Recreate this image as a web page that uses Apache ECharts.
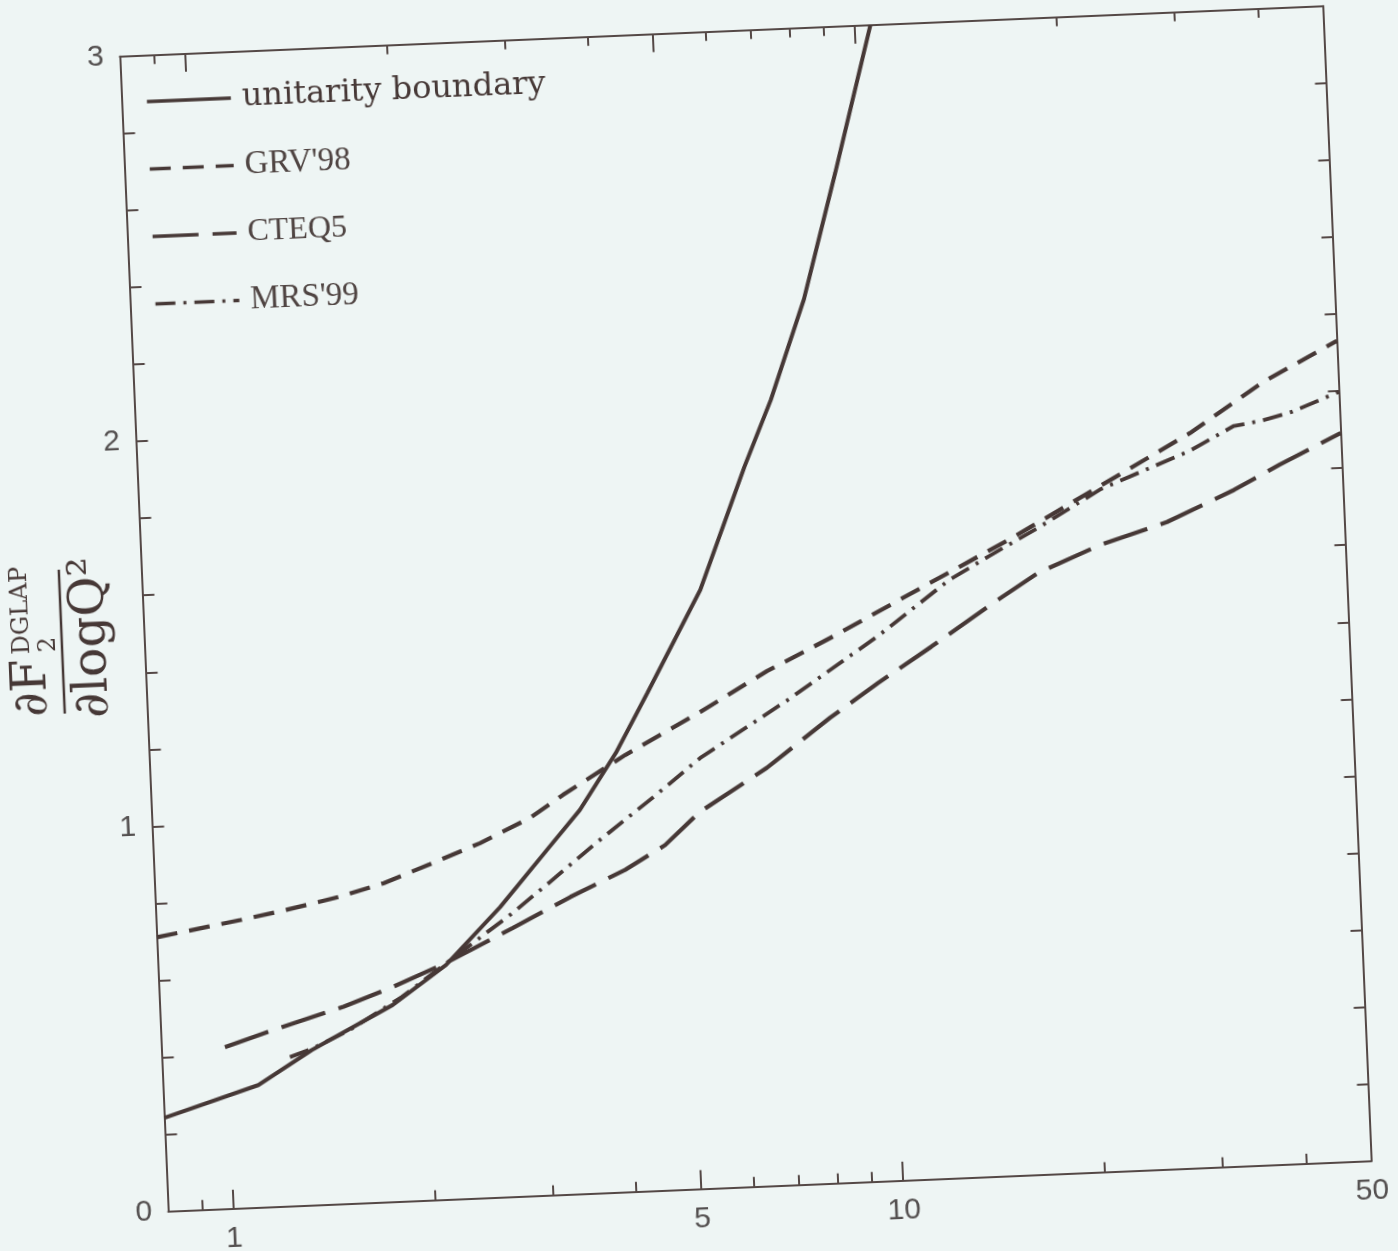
<!DOCTYPE html>
<html>
<head>
<meta charset="utf-8">
<script src="https://cdn.jsdelivr.net/npm/echarts@6/dist/echarts.min.js"></script>
<style>
  html, body { margin: 0; padding: 0; background: #eef5f4; overflow: hidden; }
  #chart { width: 1398px; height: 1251px; transform: rotate(-2.4deg); transform-origin: 745.5px 608.75px; }
</style>
</head>
<body>
<div id="chart"></div>
<script>
// ---- data (Q^2 in GeV^2, value of dF2/dlogQ2) ----
const unitarityQ2  = [0.8, 1.11, 1.34, 1.78, 2.15, 2.61, 3.09, 3.48, 3.97, 4.46, 5.43, 6.43, 7.11, 8.08, 9.16, 10.56];
const unitarityVal = [0.243, 0.318, 0.403, 0.511, 0.609, 0.753, 0.896, 0.996, 1.140, 1.292, 1.554, 1.868, 2.039, 2.296, 2.62, 3.0];

const grvQ2  = [0.8, 1.071, 1.252, 1.504, 1.758, 2.065, 2.459, 2.93, 3.29, 4.10, 5.33, 6.75, 8.52, 11.65, 15.92, 21.8, 29.8, 38.6, 50];
const grvVal = [0.712, 0.748, 0.769, 0.797, 0.828, 0.872, 0.921, 0.981, 1.037, 1.134, 1.237, 1.336, 1.419, 1.537, 1.654, 1.781, 1.907, 2.032, 2.130];

const cteqQ2  = [0.995, 1.156, 1.504, 1.786, 2.15, 2.72, 3.33, 4.03, 4.64, 5.25, 6.65, 8.32, 9.86, 11.89, 14.59, 17.34, 21.55, 27.2, 34.4, 40.3, 50];
const cteqVal = [0.420, 0.455, 0.512, 0.558, 0.614, 0.698, 0.772, 0.836, 0.896, 0.978, 1.085, 1.208, 1.293, 1.381, 1.481, 1.561, 1.627, 1.679, 1.755, 1.815, 1.891];

const mrsQ2  = [1.242, 1.341, 1.532, 1.84, 2.29, 2.70, 3.11, 3.63, 4.53, 5.30, 7.25, 9.93, 12.76, 14.70, 17.46, 21.8, 29.7, 34.7, 38.1, 42.4, 50];
const mrsVal = [0.387, 0.406, 0.451, 0.531, 0.646, 0.732, 0.813, 0.904, 1.027, 1.118, 1.261, 1.415, 1.552, 1.610, 1.678, 1.772, 1.861, 1.921, 1.931, 1.951, 1.998];

// ---- ticks / labels ----
const xMajorTicks = [1, 5, 10];
const xMinorTicks = [0.9, 2, 3, 4, 6, 7, 8, 9, 20, 30, 40];
const xLabels = [1, 5, 10, 50];
const yTicks = [0, 0.2, 0.4, 0.6, 0.8, 1, 1.2, 1.4, 1.6, 1.8, 2, 2.2, 2.4, 2.6, 2.8, 3];
const yLabels = [0, 1, 2, 3];

const seriesNames = ['unitarity boundary', "GRV'98", 'CTEQ5', "MRS'99"];

const INK = '#463836';
const AXIS = '#544846';
const LABEL = '#545050';

function pairs(xs, ys) { return xs.map((x, i) => [x, ys[i]]); }

const chart = echarts.init(document.getElementById('chart'), null, { renderer: 'canvas' });

const xBase = { type: 'log', logBase: 10, min: 0.8, max: 50, splitLine: { show: false }, minorTick: { show: false } };
const axisLineStyle = { color: AXIS, width: 2 };
const tickFont = { color: LABEL, fontSize: 30, fontFamily: 'Liberation Sans' };

chart.setOption({
  backgroundColor: 'transparent',
  animation: false,
  grid: { left: 143.5, top: 30.75, width: 1204, height: 1156, containLabel: false },
  xAxis: [
    Object.assign({}, xBase, {
      position: 'bottom',
      axisLine: { show: true, lineStyle: axisLineStyle },
      axisTick: { show: true, inside: true, length: 19, customValues: xMajorTicks, lineStyle: { color: AXIS, width: 2 } },
      axisLabel: Object.assign({ show: true, customValues: xLabels, margin: 15 }, tickFont)
    }),
    Object.assign({}, xBase, {
      position: 'bottom',
      axisLine: { show: false },
      axisTick: { show: true, inside: true, length: 10, customValues: xMinorTicks, lineStyle: { color: AXIS, width: 2 } },
      axisLabel: { show: false }
    }),
    Object.assign({}, xBase, {
      position: 'top',
      axisLine: { show: true, lineStyle: axisLineStyle },
      axisTick: { show: true, inside: true, length: 18, customValues: xMajorTicks, lineStyle: { color: AXIS, width: 2 } },
      axisLabel: { show: false }
    }),
    Object.assign({}, xBase, {
      position: 'top',
      axisLine: { show: false },
      axisTick: { show: true, inside: true, length: 9, customValues: xMinorTicks, lineStyle: { color: AXIS, width: 2 } },
      axisLabel: { show: false }
    })
  ],
  yAxis: [
    {
      type: 'value', min: 0, max: 3, position: 'left',
      splitLine: { show: false },
      axisLine: { show: true, lineStyle: axisLineStyle },
      axisTick: { show: true, inside: true, length: 12, customValues: yTicks, lineStyle: { color: AXIS, width: 2 } },
      axisLabel: Object.assign({ show: true, customValues: yLabels, margin: 16 }, tickFont)
    },
    {
      type: 'value', min: 0, max: 3, position: 'right',
      splitLine: { show: false },
      axisLine: { show: true, lineStyle: axisLineStyle },
      axisTick: { show: true, inside: true, length: 11, customValues: yTicks, lineStyle: { color: AXIS, width: 2 } },
      axisLabel: { show: false }
    }
  ],
  legend: {
    orient: 'vertical', left: 162, top: 56,
    itemWidth: 84, itemHeight: 30, itemGap: 35,
    selectedMode: false,
    itemStyle: { opacity: 0 },
    lineStyle: { width: 3.4 },
    textStyle: { color: INK, padding: [0, 0, 0, 6] },
    data: [
      { name: seriesNames[0], textStyle: { fontFamily: 'DejaVu Serif', fontSize: 32, color: INK } },
      { name: seriesNames[1], textStyle: { fontFamily: 'Liberation Serif', fontSize: 33, color: '#4f4442' } },
      { name: seriesNames[2], textStyle: { fontFamily: 'Liberation Serif', fontSize: 32, color: '#4f4442', padding: [0, 0, 6, 6] } },
      { name: seriesNames[3], textStyle: { fontFamily: 'Liberation Serif', fontSize: 33, color: '#4f4442' } }
    ]
  },
  graphic: [
    {
      type: 'group', x: 61, y: 613, rotation: Math.PI / 2,
      children: [
        { type: 'text', style: { text: '∂F', x: -74, y: -30, font: '48px "DejaVu Serif"', fill: INK, align: 'left', verticalAlign: 'middle' } },
        { type: 'text', style: { text: 'DGLAP', x: -11, y: -39, font: '24px "DejaVu Serif"', fill: INK, align: 'left', verticalAlign: 'middle' } },
        { type: 'text', style: { text: '2', x: -10, y: -13, font: '24px "DejaVu Serif"', fill: INK, align: 'left', verticalAlign: 'middle' } },
        { type: 'line', shape: { x1: -72, y1: 0, x2: 72, y2: 0 }, style: { stroke: INK, lineWidth: 2.5 } },
        { type: 'text', style: { text: '∂logQ²', x: 3, y: 30, font: '49px "DejaVu Serif"', fill: INK, align: 'center', verticalAlign: 'middle' } }
      ]
    }
  ],
  series: [
    { name: seriesNames[0], type: 'line', xAxisIndex: 0, yAxisIndex: 0, symbol: 'none', clip: true,
      lineStyle: { color: INK, width: 4, type: 'solid' }, itemStyle: { color: INK },
      data: pairs(unitarityQ2, unitarityVal) },
    { name: seriesNames[1], type: 'line', xAxisIndex: 0, yAxisIndex: 0, symbol: 'none', clip: true,
      lineStyle: { color: INK, width: 4.2, type: [21, 12] }, itemStyle: { color: INK },
      data: pairs(grvQ2, grvVal) },
    { name: seriesNames[2], type: 'line', xAxisIndex: 0, yAxisIndex: 0, symbol: 'none', clip: true,
      lineStyle: { color: INK, width: 4.2, type: [46, 14] }, itemStyle: { color: INK },
      data: pairs(cteqQ2, cteqVal) },
    { name: seriesNames[3], type: 'line', xAxisIndex: 0, yAxisIndex: 0, symbol: 'none', clip: true,
      lineStyle: { color: INK, width: 3.8, type: [20, 8, 3, 8] }, itemStyle: { color: INK },
      data: pairs(mrsQ2, mrsVal) }
  ]
});
</script>
</body>
</html>
